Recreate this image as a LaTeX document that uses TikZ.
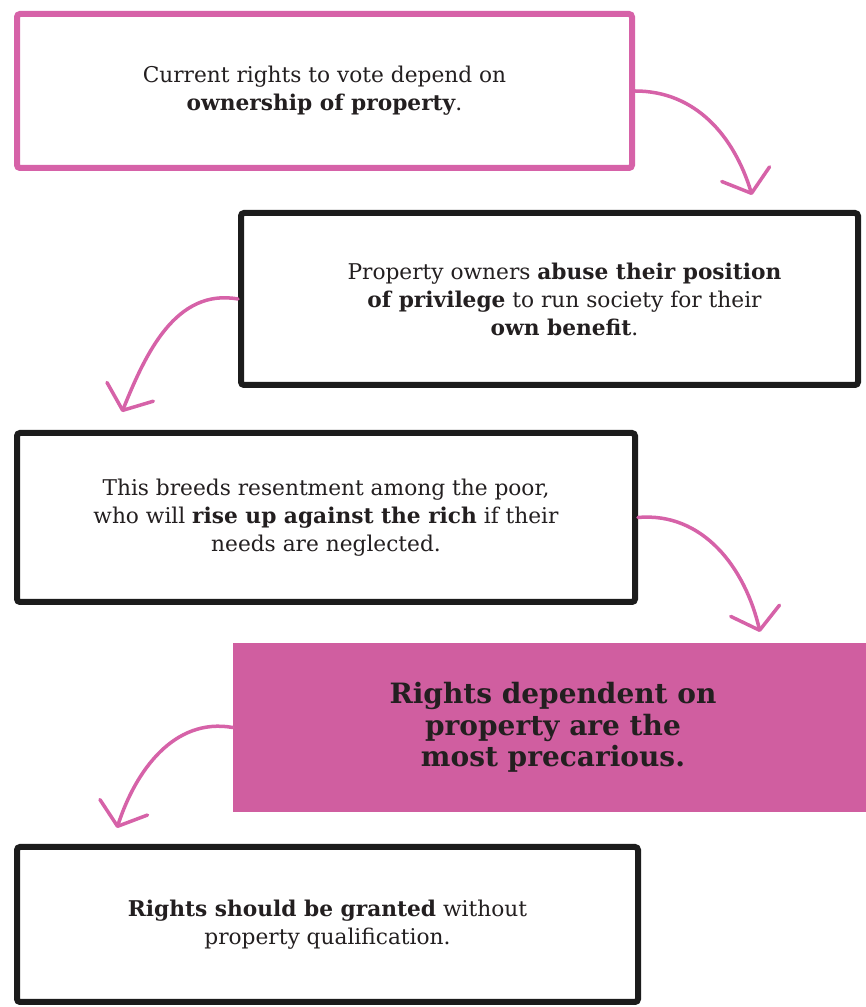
\documentclass[tikz,border=0pt]{standalone}
\usepackage{fontspec}
\setmainfont{DejaVu Serif}
\usetikzlibrary{arrows.meta,calc}
\definecolor{pinkline}{RGB}{214,98,168}
\definecolor{pinkfill}{RGB}{208,94,160}
\definecolor{inkblack}{RGB}{28,28,28}
\definecolor{textdark}{RGB}{35,31,32}
\newcommand\bodyfont{\fontsize{21.7}{28}\selectfont}
\newcommand\titlefont{\bfseries\fontsize{28}{31.5}\selectfont}
\begin{document}
\begin{tikzpicture}[x=1pt,y=1pt,
  box/.style={draw=inkblack, line width=6pt, rounded corners=3pt, inner sep=0pt,
    align=center, font=\bodyfont, text=textdark},
  pinkbox/.style={box, draw=pinkline},
  keybox/.style={fill=pinkfill, draw=none, inner sep=0pt, align=center,
    font=\titlefont, text=textdark},
  boxtext/.style={font=\bodyfont, align=center, text=textdark, inner sep=0pt},
  flow/.style={draw=pinkline, line width=3.5pt, line cap=round,
    -{Straight Barb[length=20pt,width=50pt,line width=3.5pt,round]}}
]
\useasboundingbox (0,0) rectangle (866,1007);
\fill[white] (0,0) rectangle (866,1007);

\node[pinkbox, minimum width=615pt, minimum height=154pt] (b1) at (324.5,916)
  {Current rights to vote depend on\\\textbf{ownership of property}.};

\node[box, minimum width=617pt, minimum height=172pt] (b2) at (549.5,708) {};
\node[boxtext] (t2) at ($(b2.center)+(15,0)$)
  {Property owners \textbf{abuse their position}\\\textbf{of privilege} to run society for their\\\textbf{own benefit}.};

\node[box, minimum width=618pt, minimum height=169pt] (b3) at (326,489.5)
  {This breeds resentment among the poor,\\who will \textbf{rise up against the rich} if their\\needs are neglected.};

\node[keybox, minimum width=640pt, minimum height=169pt] (b4) at (553,279.5)
  {Rights dependent on\\property are the\\most precarious.};

\node[box, minimum width=621pt, minimum height=155pt] (b5) at (327.5,82.5)
  {\textbf{Rights should be granted} without\\property qualification.};

\coordinate (h1) at (752,812);
\coordinate (h2) at (122,595);
\coordinate (h3) at (760,375);
\coordinate (h4) at (117,179);

\draw[flow] (b1.east) to[out=0,in=107] (h1);
\draw[flow] (b2.west) to[out=170,in=68] (h2);
\draw[flow] (b3.east) to[out=5,in=103] (h3);
\draw[flow] (b4.west) to[out=170,in=72] (h4);
\end{tikzpicture}
\end{document}
